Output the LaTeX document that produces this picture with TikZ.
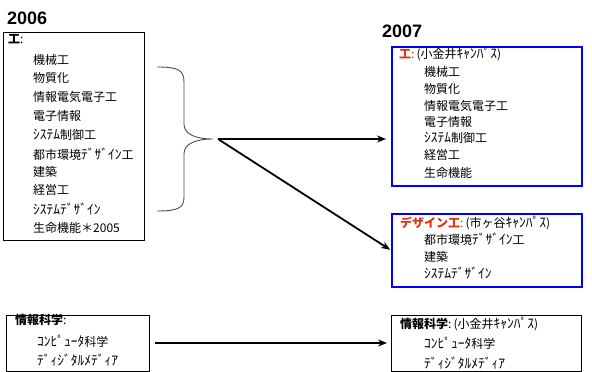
\documentclass[tikz,border=0pt]{standalone}
\usepackage{fontspec}
\setmainfont{Noto Sans CJK JP}
\newfontfamily\numfont{Liberation Sans}
\usetikzlibrary{arrows.meta}
\definecolor{titlered}{HTML}{E0300E}
\newcommand{\hk}[1]{{\fontsize{13.5}{12}\selectfont #1}}
\tikzset{
  x=1pt,y=-1pt,
  txt/.style={anchor=west,inner sep=0pt,font=\fontsize{12}{12}\selectfont},
  yeartxt/.style={anchor=west,inner sep=0pt,font=\numfont\bfseries\fontsize{18}{18}\selectfont},
  blackbox/.style={draw=black,line width=0.8pt,anchor=north west,inner sep=0pt},
  bluebox/.style={draw=blue,line width=1.6pt,anchor=north west,inner sep=0pt},
  bracestyle/.style={draw=black!70,line width=0.9pt},
  arr/.style={line width=1.8pt,-{Stealth[length=9pt,width=7pt]}},
}
\begin{document}
\begin{tikzpicture}
\useasboundingbox (0,0) rectangle (592,372);
% boxes
\node[blackbox,minimum width=141pt,minimum height=208pt] (b06) at (3,32) {};
\node[bluebox,minimum width=190pt,minimum height=139pt] (b07) at (391,46) {};
\node[bluebox,minimum width=190pt,minimum height=73pt] (bdz) at (391,213) {};
\node[blackbox,minimum width=143pt,minimum height=56pt] (bil) at (6,315) {};
\node[blackbox,minimum width=190pt,minimum height=56pt] (bir) at (391,315) {};
% years
\node[yeartxt] (y06) at (7,18) {2006};
\node[yeartxt] (y07) at (382,31) {2007};
% 2006 box
\node[txt] (t0) at (8,39) {\bfseries 工\normalfont:};
\node[txt] (t1) at (33,60) {機械工};
\node[txt] (t2) at (33,78) {物質化};
\node[txt] (t3) at (33,97) {情報電気電子工};
\node[txt] (t4) at (33,116) {電子情報};
\node[txt] (t5) at (33,135) {\hk{ｼｽﾃﾑ}制御工};
\node[txt] (t6) at (33,154) {都市環境\hk{ﾃﾞｻﾞｲﾝ}工};
\node[txt] (t7) at (33,172) {建築};
\node[txt] (t8) at (33,190) {経営工};
\node[txt] (t9) at (33,209) {\hk{ｼｽﾃﾑﾃﾞｻﾞｲﾝ}};
\node[txt] (t10) at (33,228) {生命機能＊2005};
% 2007 box
\node[txt] (u0) at (399,54) {\textcolor{titlered}{\bfseries 工\normalfont:}\,(小金井\hk{ｷｬﾝﾊﾟｽ})};
\node[txt] (u1) at (424,72) {機械工};
\node[txt] (u2) at (424,89) {物質化};
\node[txt] (u3) at (424,106) {情報電気電子工};
\node[txt] (u4) at (424,122) {電子情報};
\node[txt] (u5) at (424,138) {\hk{ｼｽﾃﾑ}制御工};
\node[txt] (u6) at (424,155) {経営工};
\node[txt] (u7) at (424,173) {生命機能};
% design box
\node[txt] (d0) at (400,223) {\textcolor{titlered}{\bfseries デザイン工\normalfont:}\,(市ヶ谷\hk{ｷｬﾝﾊﾟｽ})};
\node[txt] (d1) at (424,239) {都市環境\hk{ﾃﾞｻﾞｲﾝ}工};
\node[txt] (d2) at (424,257) {建築};
\node[txt] (d3) at (424,273) {\hk{ｼｽﾃﾑﾃﾞｻﾞｲﾝ}};
% info left
\node[txt] (i0) at (15,320) {\bfseries 情報科学\normalfont:};
\node[txt] (i1) at (37,341) {\hk{ｺﾝﾋﾟｭｰﾀ}科学};
\node[txt] (i2) at (37,360) {\hk{ﾃﾞｨｼﾞﾀﾙﾒﾃﾞｨｱ}};
% info right
\node[txt] (j0) at (400,324) {\bfseries 情報科学\normalfont:\,(小金井\hk{ｷｬﾝﾊﾟｽ})};
\node[txt] (j1) at (424,343) {\hk{ｺﾝﾋﾟｭｰﾀ}科学};
\node[txt] (j2) at (424,363) {\hk{ﾃﾞｨｼﾞﾀﾙﾒﾃﾞｨｱ}};
% brace
\path[bracestyle] (157,67) .. controls (178,67) and (184,70) .. (184,82) -- (184,124)
  .. controls (184,134) and (195,139) .. (213,139)
  .. controls (195,139) and (184,144) .. (184,154) -- (184,197)
  .. controls (184,208) and (178,211) .. (157,211);
\coordinate (tip) at (218,139);
% arrows
\draw[arr,shorten >=5pt] (tip) -- (tip -| b07.west);
\draw[arr,shorten >=1pt] (tip) -- (bdz.west);
\coordinate (ia) at (155,343);
\draw[arr,shorten >=4pt] (ia) -- (ia -| bir.west);
\end{tikzpicture}
\end{document}
